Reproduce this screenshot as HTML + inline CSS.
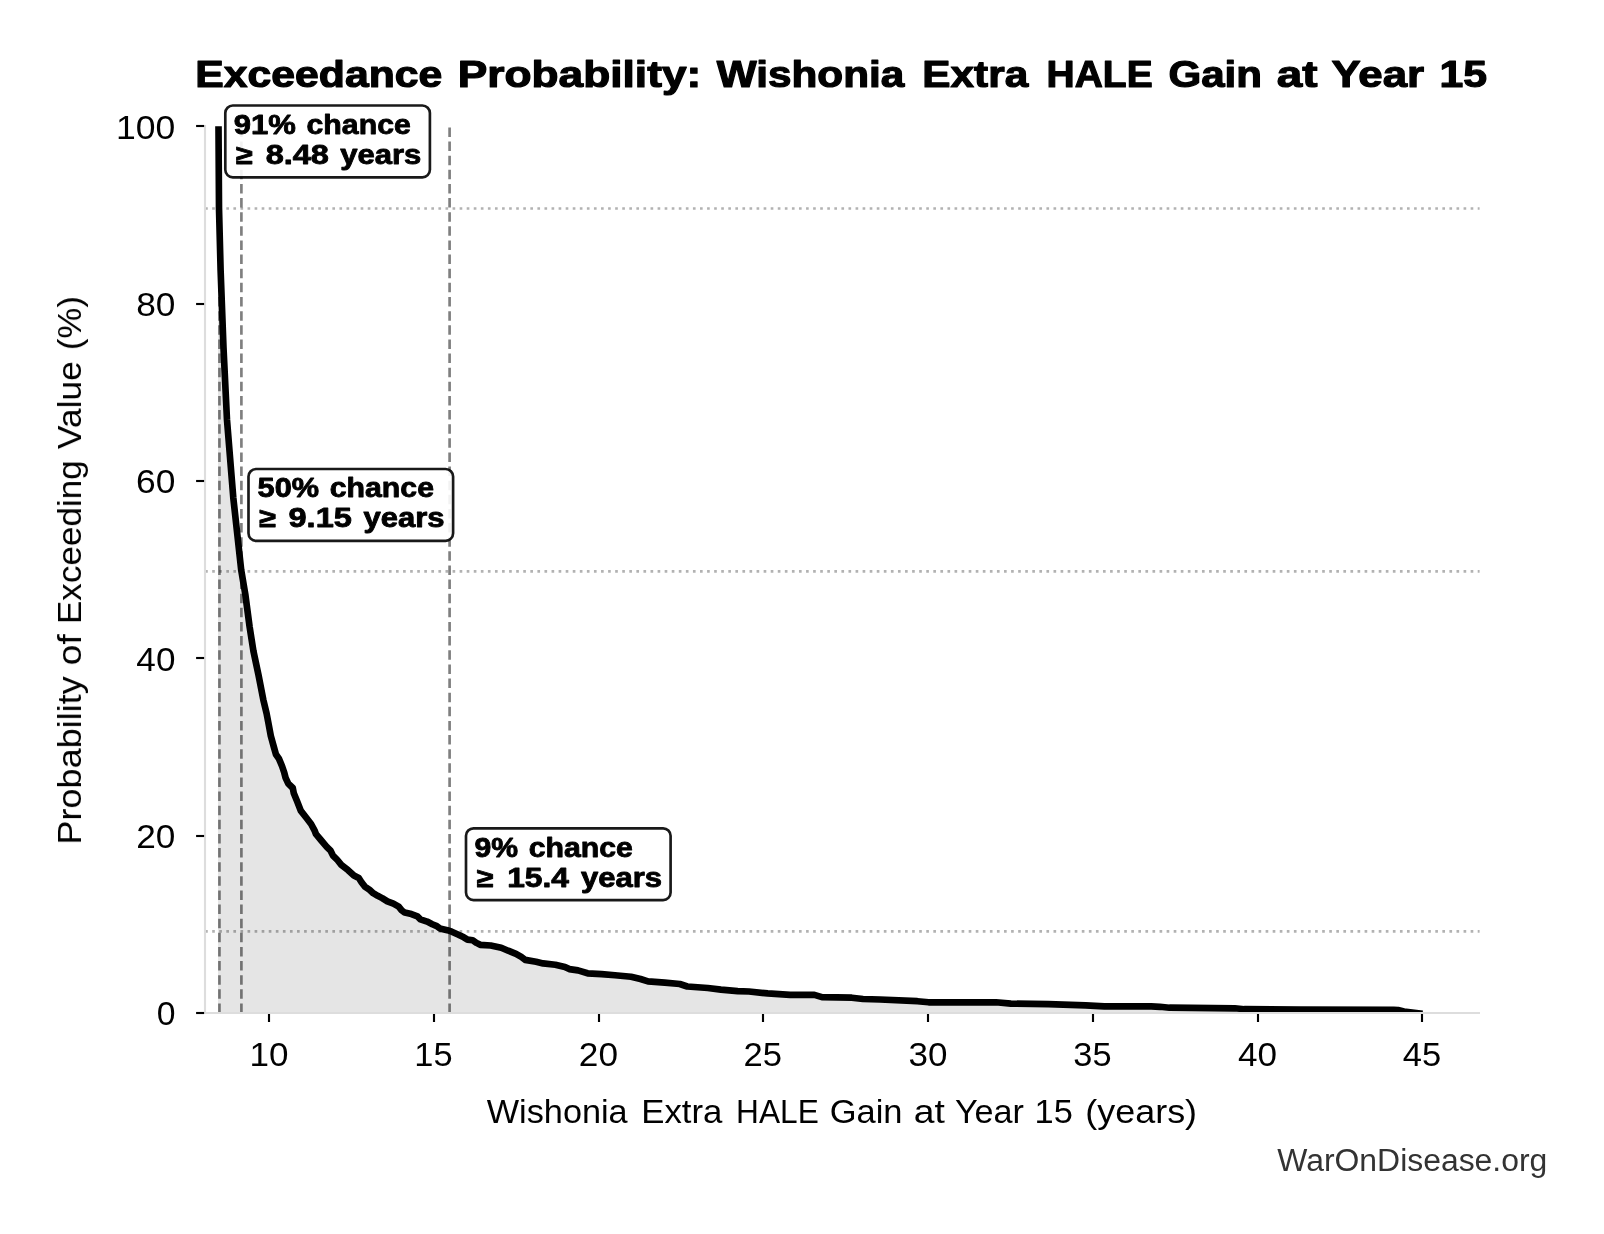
<!DOCTYPE html>
<html lang="en"><head><meta charset="utf-8"><title>Exceedance Probability: Wishonia Extra HALE Gain at Year 15</title>
<style>
html,body{margin:0;padding:0;background:#fff}
svg{display:block;font-family:"Liberation Sans",sans-serif}
text{white-space:pre}
</style></head>
<body>
<svg width="1604" height="1234" viewBox="0 0 1604 1234" fill="#000">
<rect width="1604" height="1234" fill="#fff"/>
<clipPath id="ax"><rect x="205.1" y="126.1" width="1274.5" height="887.2"/></clipPath>
<polygon points="218.0,1013.0 218.0,126.4 218.5,126.3 219.0,208.0 220.6,270.0 223.5,347.8 227.0,420.0 233.3,497.8 241.2,570.0 245.3,594.3 249.6,626.7 253.4,651.0 258.5,675.0 263.3,699.7 266.6,713.5 268.6,724.0 270.8,735.9 274.0,747.5 276.0,754.6 278.8,758.4 282.0,766.0 284.3,772.8 285.6,777.8 288.3,783.6 292.8,788.0 293.8,793.3 297.0,801.1 300.9,810.9 306.3,817.7 311.1,824.0 314.5,830.3 316.0,834.2 320.9,840.0 326.7,846.8 330.6,850.7 333.0,855.6 337.4,860.0 341.3,864.8 348.1,870.2 353.9,875.5 358.8,878.0 361.5,882.2 365.0,886.8 369.5,889.8 373.2,893.2 377.7,895.8 382.2,898.1 387.4,901.4 393.4,903.7 398.7,906.7 401.7,910.4 404.7,912.6 411.4,914.1 417.4,916.4 420.4,919.4 427.1,921.6 432.3,924.2 436.8,926.1 439.8,928.4 447.3,930.2 451.8,931.7 458.5,934.7 463.8,937.3 467.5,939.6 472.7,940.3 476.5,942.9 480.2,944.8 490.7,945.5 501.2,947.7 508.2,950.7 516.0,953.8 521.3,956.9 525.2,959.9 536.1,961.7 543.1,963.4 555.3,964.7 564.9,966.9 569.3,969.1 578.0,970.4 587.6,973.3 601.6,974.1 615.0,975.2 631.1,976.7 640.5,979.0 648.0,981.4 664.8,982.7 679.8,984.0 687.3,986.5 707.8,988.0 720.9,989.6 737.7,991.1 749.0,991.5 767.7,993.4 790.1,994.9 814.4,994.9 821.9,997.1 851.8,997.7 863.0,999.0 880.0,999.5 917.4,1001.2 928.6,1002.3 996.0,1002.3 1010.9,1003.6 1048.3,1004.2 1085.7,1005.3 1104.4,1006.4 1151.2,1006.4 1160.0,1006.8 1169.4,1007.7 1234.8,1008.3 1244.2,1009.2 1300.0,1009.6 1393.8,1009.9 1398.0,1010.1 1404.0,1011.6 1422.6,1013.7 1422.6,1013.0" fill="#e5e5e5"/>
<line x1="205.1" x2="1479.6" y1="208.5" y2="208.5" stroke="#000" stroke-opacity="0.3" stroke-width="2.67" stroke-dasharray="2.67 4.4"/>
<line x1="205.1" x2="1479.6" y1="571.45" y2="571.45" stroke="#000" stroke-opacity="0.3" stroke-width="2.67" stroke-dasharray="2.67 4.4"/>
<line x1="205.1" x2="1479.6" y1="931.45" y2="931.45" stroke="#000" stroke-opacity="0.3" stroke-width="2.67" stroke-dasharray="2.67 4.4"/>
<line x1="219.45" x2="219.45" y1="1013.0" y2="126.4" stroke="#000" stroke-opacity="0.5" stroke-width="2.67" stroke-dasharray="9.5 4.63"/>
<line x1="241.4" x2="241.4" y1="1013.0" y2="126.4" stroke="#000" stroke-opacity="0.5" stroke-width="2.67" stroke-dasharray="9.5 4.63"/>
<line x1="449.6" x2="449.6" y1="1013.0" y2="126.4" stroke="#000" stroke-opacity="0.5" stroke-width="2.67" stroke-dasharray="9.5 4.63"/>
<polyline clip-path="url(#ax)" points="218.5,126.3 219.0,208.0 220.6,270.0 223.5,347.8 227.0,420.0 233.3,497.8 241.2,570.0 245.3,594.3 249.6,626.7 253.4,651.0 258.5,675.0 263.3,699.7 266.6,713.5 268.6,724.0 270.8,735.9 274.0,747.5 276.0,754.6 278.8,758.4 282.0,766.0 284.3,772.8 285.6,777.8 288.3,783.6 292.8,788.0 293.8,793.3 297.0,801.1 300.9,810.9 306.3,817.7 311.1,824.0 314.5,830.3 316.0,834.2 320.9,840.0 326.7,846.8 330.6,850.7 333.0,855.6 337.4,860.0 341.3,864.8 348.1,870.2 353.9,875.5 358.8,878.0 361.5,882.2 365.0,886.8 369.5,889.8 373.2,893.2 377.7,895.8 382.2,898.1 387.4,901.4 393.4,903.7 398.7,906.7 401.7,910.4 404.7,912.6 411.4,914.1 417.4,916.4 420.4,919.4 427.1,921.6 432.3,924.2 436.8,926.1 439.8,928.4 447.3,930.2 451.8,931.7 458.5,934.7 463.8,937.3 467.5,939.6 472.7,940.3 476.5,942.9 480.2,944.8 490.7,945.5 501.2,947.7 508.2,950.7 516.0,953.8 521.3,956.9 525.2,959.9 536.1,961.7 543.1,963.4 555.3,964.7 564.9,966.9 569.3,969.1 578.0,970.4 587.6,973.3 601.6,974.1 615.0,975.2 631.1,976.7 640.5,979.0 648.0,981.4 664.8,982.7 679.8,984.0 687.3,986.5 707.8,988.0 720.9,989.6 737.7,991.1 749.0,991.5 767.7,993.4 790.1,994.9 814.4,994.9 821.9,997.1 851.8,997.7 863.0,999.0 880.0,999.5 917.4,1001.2 928.6,1002.3 996.0,1002.3 1010.9,1003.6 1048.3,1004.2 1085.7,1005.3 1104.4,1006.4 1151.2,1006.4 1160.0,1006.8 1169.4,1007.7 1234.8,1008.3 1244.2,1009.2 1300.0,1009.6 1393.8,1009.9 1398.0,1010.1 1404.0,1011.6 1422.6,1013.7" fill="none" stroke="#000" stroke-width="6.67" stroke-linejoin="round"/>
<line x1="205" x2="205" y1="124.9" y2="1014.07" stroke="#dddddd" stroke-width="2.13"/>
<line x1="203.93" x2="1480" y1="1013.0" y2="1013.0" stroke="#dddddd" stroke-width="2.13"/>
<line x1="269" x2="269" y1="1014.0" y2="1022.0" stroke="#000" stroke-width="2.13"/>
<line x1="434" x2="434" y1="1014.0" y2="1022.0" stroke="#000" stroke-width="2.13"/>
<line x1="599" x2="599" y1="1014.0" y2="1022.0" stroke="#000" stroke-width="2.13"/>
<line x1="763" x2="763" y1="1014.0" y2="1022.0" stroke="#000" stroke-width="2.13"/>
<line x1="928" x2="928" y1="1014.0" y2="1022.0" stroke="#000" stroke-width="2.13"/>
<line x1="1093" x2="1093" y1="1014.0" y2="1022.0" stroke="#000" stroke-width="2.13"/>
<line x1="1258" x2="1258" y1="1014.0" y2="1022.0" stroke="#000" stroke-width="2.13"/>
<line x1="1422" x2="1422" y1="1014.0" y2="1022.0" stroke="#000" stroke-width="2.13"/>
<line x1="196.1" x2="204.1" y1="1013" y2="1013" stroke="#000" stroke-width="2.13"/>
<line x1="196.1" x2="204.1" y1="836" y2="836" stroke="#000" stroke-width="2.13"/>
<line x1="196.1" x2="204.1" y1="658" y2="658" stroke="#000" stroke-width="2.13"/>
<line x1="196.1" x2="204.1" y1="481" y2="481" stroke="#000" stroke-width="2.13"/>
<line x1="196.1" x2="204.1" y1="304" y2="304" stroke="#000" stroke-width="2.13"/>
<line x1="196.1" x2="204.1" y1="126" y2="126" stroke="#000" stroke-width="2.13"/>
<rect x="225.3" y="105.5" width="204.6" height="71.8" rx="7.5" ry="7.5" fill="#fff" fill-opacity="0.9" stroke="#000" stroke-opacity="0.9" stroke-width="2.67"/>
<rect x="248.5" y="469.0" width="204.6" height="71.8" rx="7.5" ry="7.5" fill="#fff" fill-opacity="0.9" stroke="#000" stroke-opacity="0.9" stroke-width="2.67"/>
<rect x="466.0" y="828.3" width="204.6" height="71.8" rx="7.5" ry="7.5" fill="#fff" fill-opacity="0.9" stroke="#000" stroke-opacity="0.9" stroke-width="2.67"/>
<g opacity="0.999">
<text y="86.90" font-size="37.78" font-weight="700" stroke="#000" stroke-width="1.19" stroke-linejoin="round"><tspan x="195.20" textLength="247.21" lengthAdjust="spacingAndGlyphs">Exceedance</tspan> <tspan x="457.74" textLength="243.54" lengthAdjust="spacingAndGlyphs">Probability:</tspan> <tspan x="716.72" textLength="187.56" lengthAdjust="spacingAndGlyphs">Wishonia</tspan> <tspan x="922.38" textLength="105.85" lengthAdjust="spacingAndGlyphs">Extra</tspan> <tspan x="1046.58" textLength="106.05" lengthAdjust="spacingAndGlyphs">HALE</tspan> <tspan x="1168.43" textLength="93.54" lengthAdjust="spacingAndGlyphs">Gain</tspan> <tspan x="1276.70" textLength="40.74" lengthAdjust="spacingAndGlyphs">at</tspan> <tspan x="1331.45" textLength="92.68" lengthAdjust="spacingAndGlyphs">Year</tspan> <tspan x="1439.57" textLength="47.54" lengthAdjust="spacingAndGlyphs">15</tspan></text>
<text y="1122.90" font-size="33.6"><tspan x="486.78" textLength="140.90" lengthAdjust="spacingAndGlyphs">Wishonia</tspan> <tspan x="641.22" textLength="81.21" lengthAdjust="spacingAndGlyphs">Extra</tspan> <tspan x="736.12" textLength="82.65" lengthAdjust="spacingAndGlyphs">HALE</tspan> <tspan x="829.74" textLength="72.80" lengthAdjust="spacingAndGlyphs">Gain</tspan> <tspan x="913.72" textLength="31.07" lengthAdjust="spacingAndGlyphs">at</tspan> <tspan x="954.90" textLength="69.09" lengthAdjust="spacingAndGlyphs">Year</tspan> <tspan x="1034.59" textLength="38.27" lengthAdjust="spacingAndGlyphs">15</tspan> <tspan x="1085.35" textLength="111.75" lengthAdjust="spacingAndGlyphs">(years)</tspan></text>
<text y="1171.00" font-size="30.8" fill="#333333"><tspan x="1277.24" textLength="270.11" lengthAdjust="spacingAndGlyphs">WarOnDisease.org</tspan></text>
<text y="0.00" font-size="33.6" transform="translate(81.0,570.1) rotate(-90)"><tspan x="-274.47" textLength="168.25" lengthAdjust="spacingAndGlyphs">Probability</tspan> <tspan x="-95.21" textLength="31.12" lengthAdjust="spacingAndGlyphs">of</tspan> <tspan x="-54.05" textLength="163.95" lengthAdjust="spacingAndGlyphs">Exceeding</tspan> <tspan x="121.05" textLength="87.76" lengthAdjust="spacingAndGlyphs">Value</tspan> <tspan x="220.05" textLength="53.94" lengthAdjust="spacingAndGlyphs">(%)</tspan></text>
<text y="133.80" font-size="26.99" font-weight="700" stroke="#000" stroke-width="0.85" stroke-linejoin="round"><tspan x="233.74" textLength="62.11" lengthAdjust="spacingAndGlyphs">91%</tspan> <tspan x="306.54" textLength="104.26" lengthAdjust="spacingAndGlyphs">chance</tspan></text>
<text y="163.90" font-size="26.99" font-weight="700" stroke="#000" stroke-width="0.85" stroke-linejoin="round"><tspan x="235.95" textLength="16.75" lengthAdjust="spacingAndGlyphs">≥</tspan> <tspan x="265.70" textLength="63.28" lengthAdjust="spacingAndGlyphs">8.48</tspan> <tspan x="340.26" textLength="81.09" lengthAdjust="spacingAndGlyphs">years</tspan></text>
<text y="497.30" font-size="26.99" font-weight="700" stroke="#000" stroke-width="0.85" stroke-linejoin="round"><tspan x="257.62" textLength="61.43" lengthAdjust="spacingAndGlyphs">50%</tspan> <tspan x="329.74" textLength="104.26" lengthAdjust="spacingAndGlyphs">chance</tspan></text>
<text y="527.40" font-size="26.99" font-weight="700" stroke="#000" stroke-width="0.85" stroke-linejoin="round"><tspan x="259.15" textLength="16.75" lengthAdjust="spacingAndGlyphs">≥</tspan> <tspan x="288.54" textLength="63.31" lengthAdjust="spacingAndGlyphs">9.15</tspan> <tspan x="363.46" textLength="81.09" lengthAdjust="spacingAndGlyphs">years</tspan></text>
<text y="856.60" font-size="26.99" font-weight="700" stroke="#000" stroke-width="0.85" stroke-linejoin="round"><tspan x="474.46" textLength="43.59" lengthAdjust="spacingAndGlyphs">9%</tspan> <tspan x="528.69" textLength="104.26" lengthAdjust="spacingAndGlyphs">chance</tspan></text>
<text y="886.70" font-size="26.99" font-weight="700" stroke="#000" stroke-width="0.85" stroke-linejoin="round"><tspan x="476.65" textLength="16.75" lengthAdjust="spacingAndGlyphs">≥</tspan> <tspan x="507.19" textLength="61.88" lengthAdjust="spacingAndGlyphs">15.4</tspan> <tspan x="580.96" textLength="81.09" lengthAdjust="spacingAndGlyphs">years</tspan></text>
<text y="1025.20" font-size="33.6"><tspan x="156.78" textLength="18.76" lengthAdjust="spacingAndGlyphs">0</tspan></text>
<text y="847.88" font-size="33.6"><tspan x="136.28" textLength="39.19" lengthAdjust="spacingAndGlyphs">20</tspan></text>
<text y="670.56" font-size="33.6"><tspan x="136.38" textLength="39.09" lengthAdjust="spacingAndGlyphs">40</tspan></text>
<text y="493.24" font-size="33.6"><tspan x="136.10" textLength="39.37" lengthAdjust="spacingAndGlyphs">60</tspan></text>
<text y="315.92" font-size="33.6"><tspan x="136.22" textLength="39.25" lengthAdjust="spacingAndGlyphs">80</tspan></text>
<text y="138.60" font-size="33.6"><tspan x="116.07" textLength="59.31" lengthAdjust="spacingAndGlyphs">100</tspan></text>
<text y="1065.70" font-size="33.6"><tspan x="249.53" textLength="39.00" lengthAdjust="spacingAndGlyphs">10</tspan></text>
<text y="1065.70" font-size="33.6"><tspan x="414.33" textLength="38.27" lengthAdjust="spacingAndGlyphs">15</tspan></text>
<text y="1065.70" font-size="33.6"><tspan x="578.84" textLength="39.19" lengthAdjust="spacingAndGlyphs">20</tspan></text>
<text y="1065.70" font-size="33.6"><tspan x="743.62" textLength="38.48" lengthAdjust="spacingAndGlyphs">25</tspan></text>
<text y="1065.70" font-size="33.6"><tspan x="908.59" textLength="38.94" lengthAdjust="spacingAndGlyphs">30</tspan></text>
<text y="1065.70" font-size="33.6"><tspan x="1073.36" textLength="38.23" lengthAdjust="spacingAndGlyphs">35</tspan></text>
<text y="1065.70" font-size="33.6"><tspan x="1237.94" textLength="39.09" lengthAdjust="spacingAndGlyphs">40</tspan></text>
<text y="1065.70" font-size="33.6"><tspan x="1402.70" textLength="38.40" lengthAdjust="spacingAndGlyphs">45</tspan></text>
</g>
</svg>
</body></html>
